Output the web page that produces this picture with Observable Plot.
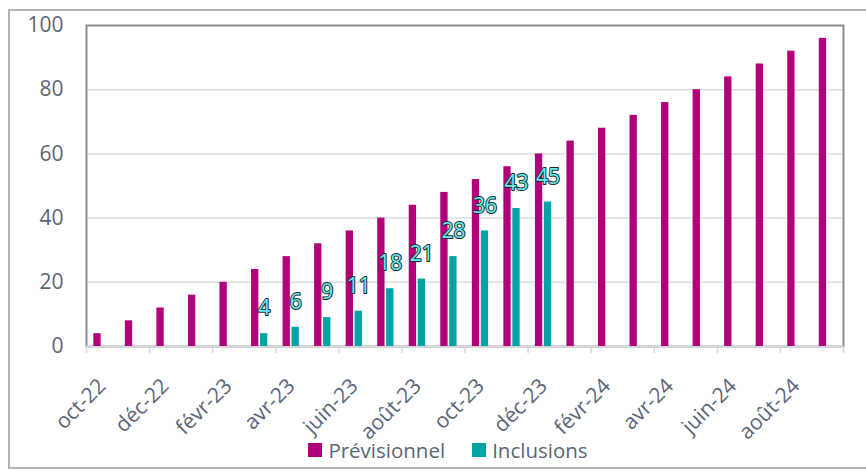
<!DOCTYPE html>
<html>
<head>
<meta charset="utf-8">
<script src="https://cdn.jsdelivr.net/npm/d3@7"></script>
<script src="https://cdn.jsdelivr.net/npm/@observablehq/plot@0.6"></script>
<style>
  html, body { margin: 0; padding: 0; overflow: hidden; background: #fff; }
  body { width: 866px; height: 471px; position: relative; font-family: "Open Sans", sans-serif; }
  #border { position: absolute; left: 8px; top: 9px; width: 900px; height: 460px; border: 2px solid #b3b3b3; box-sizing: border-box; }
  #chart { position: absolute; left: 0; top: 0; }
  #legend { position: absolute; top: 436px; left: 0; width: 896px; display: flex; justify-content: center; gap: 27px; font-size: 20.5px; color: #5b6577; line-height: 28px; }
  #legend span.item { display: flex; align-items: center; gap: 6px; }
  #legend span.sw { display: inline-block; width: 14px; height: 14px; }
</style>
</head>
<body>
<div id="border"></div>
<div id="chart"></div>
<div id="legend"></div>
<script>
const months = ["oct-22","nov-22","déc-22","janv-23","févr-23","mars-23","avr-23","mai-23","juin-23","juil-23","août-23","sept-23","oct-23","nov-23","déc-23","janv-24","févr-24","mars-24","avr-24","mai-24","juin-24","juil-24","août-24","sept-24"];
const previsionnel = [4,8,12,16,20,24,28,32,36,40,44,48,52,56,60,64,68,72,76,80,84,88,92,96];
const inclusions = [null,null,null,null,null,4,6,9,11,18,21,28,36,43,45,null,null,null,null,null,null,null,null,null];
const tickLabels = ["oct-22","déc-22","févr-23","avr-23","juin-23","août-23","oct-23","déc-23","févr-24","avr-24","juin-24","août-24"];
const yTicks = [0,20,40,60,80,100];
const gridValues = [20,40,60,80];
const seriesNames = ["Prévisionnel","Inclusions"];
const colors = ["#b0007a","#00a3a3"];

const W = 866, H = 440, ML = 86, MR = 23, MT = 25, MB = 94;
const bw = (W - ML - MR) / months.length;
const prevData = months.map((m, i) => ({month: m, value: previsionnel[i]}));
const incData = months.map((m, i) => ({month: m, value: inclusions[i]})).filter(d => d.value != null);
const textColor = "#5b6577";

const chart = Plot.plot({
  width: W, height: H,
  marginLeft: ML, marginRight: MR, marginTop: MT, marginBottom: MB,
  style: {fontFamily: "'Open Sans', sans-serif", background: "transparent", overflow: "visible"},
  x: {type: "band", domain: months, padding: 0, round: false},
  y: {domain: [0, 100]},
  marks: [
    Plot.ruleY(gridValues, {stroke: "#dadde2", strokeWidth: 1.5}),
    Plot.frame({stroke: "#8c8c8c", strokeWidth: 2}),
    Plot.ruleY([0], {stroke: "#d4d7dc", strokeWidth: 2.5}),
    Plot.barY(prevData, {x: "month", y: "value", fill: colors[0], insetLeft: bw * 0.232, insetRight: bw * 0.536}),
    Plot.barY(incData, {x: "month", y: "value", fill: colors[1], insetLeft: bw * 0.516, insetRight: bw * 0.252}),
    Plot.text(incData, {x: "month", y: "value", text: d => String(d.value), dx: bw * 0.132, dy: -25,
      fill: "#66eeee", stroke: "#1e2a2e", strokeWidth: 2, paintOrder: "stroke", fontSize: 21, fontWeight: 400, lineAnchor: "middle"}),
    Plot.axisY({ticks: yTicks, tickSize: 0, tickPadding: 23, fontSize: 21, fill: textColor, label: null}),
    Plot.axisX({ticks: tickLabels, tickSize: 7, text: null, stroke: "#d4d7dc", strokeWidth: 1.5, dx: -bw / 2, label: null}),
    Plot.axisX({ticks: [months[months.length - 1]], tickSize: 7, text: null, stroke: "#d4d7dc", strokeWidth: 1.5, dx: bw / 2, label: null}),
    Plot.axisX({ticks: tickLabels, tickSize: 0, tickRotate: -45, tickPadding: 36, fontSize: 21, fill: textColor, label: null})
  ]
});
document.getElementById("chart").appendChild(chart);

const legend = document.getElementById("legend");
seriesNames.forEach((name, i) => {
  const item = document.createElement("span");
  item.className = "item";
  const sw = document.createElement("span");
  sw.className = "sw";
  sw.style.background = colors[i];
  const t = document.createElement("span");
  t.textContent = name;
  item.appendChild(sw); item.appendChild(t);
  legend.appendChild(item);
});
</script>
</body>
</html>
